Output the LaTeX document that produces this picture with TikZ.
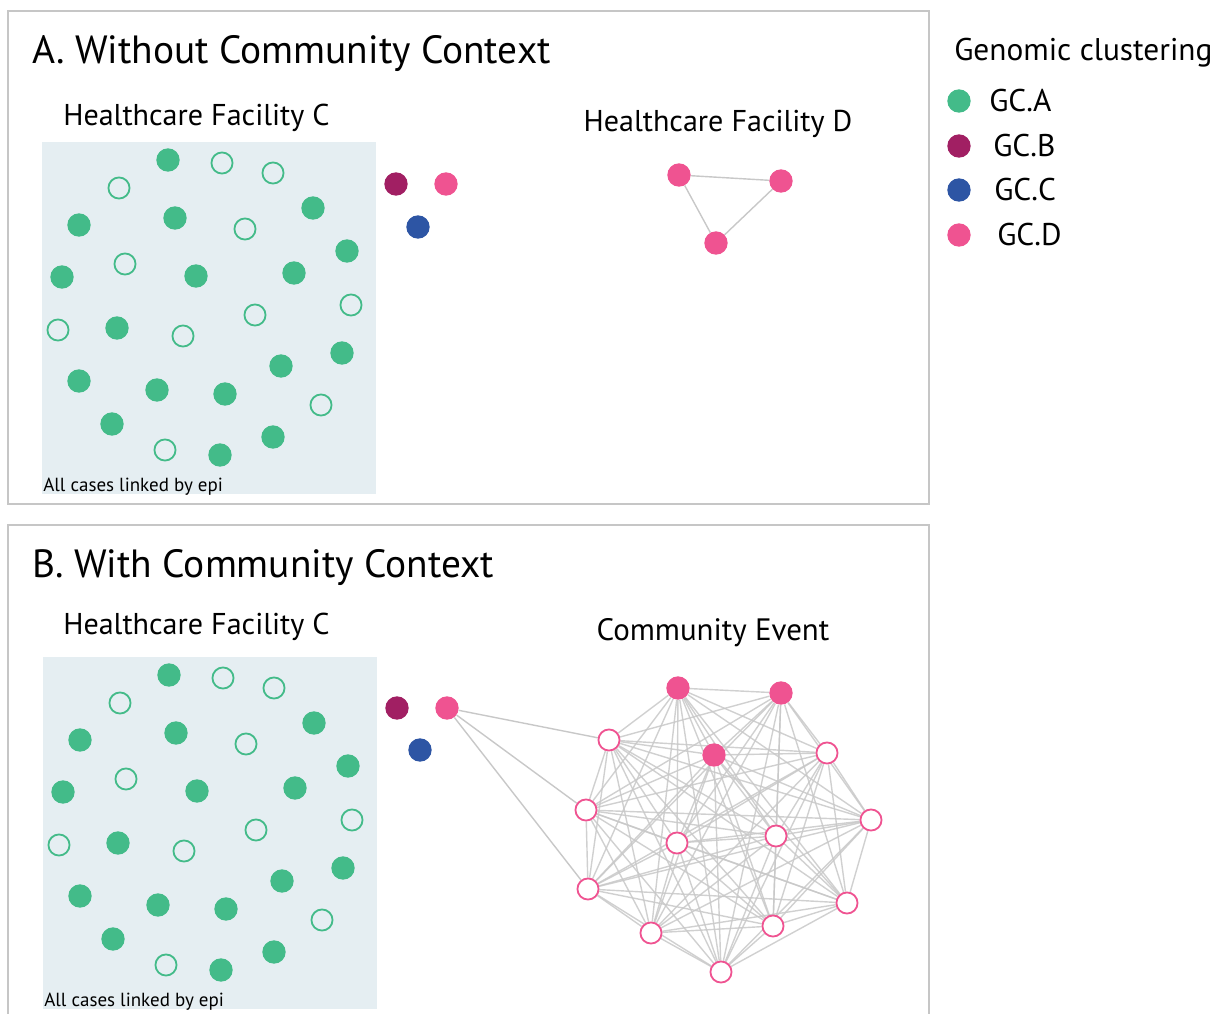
\documentclass[tikz,border=0pt]{standalone}
\usepackage{fontspec}
\setmainfont{PT Sans}
\usetikzlibrary{backgrounds}
\definecolor{gcA}{HTML}{43BB89}
\definecolor{gcB}{HTML}{A11F63}
\definecolor{gcC}{HTML}{2D55A4}
\definecolor{gcD}{HTML}{EF5391}
\definecolor{facbg}{HTML}{E5EEF2}
\definecolor{framegray}{HTML}{C6C6C6}
\definecolor{edgegray}{HTML}{C8C8C8}
\begin{document}
\begin{tikzpicture}[x=0.025cm,y=-0.025cm,
    dotfull/.style={circle,inner sep=0pt,minimum size=16.6pt,fill=#1},
    dotopen/.style={circle,inner sep=0pt,minimum size=15pt,draw=#1,line width=1.3pt},
    caseopen/.style={dotopen=gcD,fill=white},
    link/.style={edgegray,line width=1pt},
    frame/.style={framegray,line width=1.8pt},
    title/.style={anchor=base west,inner sep=0pt,font=\fontsize{28}{32}\selectfont},
    sub/.style={inner sep=0pt,font=\fontsize{21.4}{25}\selectfont},
    key/.style={inner sep=0pt,font=\fontsize{22.3}{26}\selectfont},
    small/.style={anchor=base west,inner sep=0pt,font=\fontsize{13.5}{16}\selectfont}]
    \useasboundingbox (0,0) rectangle (1212,1014);

    \draw[frame] (8,11) rectangle (929,504);
    \draw[frame] (8,1020) -- (8,525) -- (929,525) -- (929,1020);

    \node[title] (titleA) at (32,63) {A. Without Community Context};
    \node[title] (titleB) at (32,577) {B. With Community Context};
    \node[sub,anchor=base west] (facCa) at (63,125) {Healthcare Facility C};
    \node[sub,anchor=base west] (facCb) at (63,634) {Healthcare Facility C};
    \node[sub,anchor=base] (facD) at (718,131) {Healthcare Facility D};
    \node[sub,anchor=base,font=\fontsize{22}{26}\selectfont] (event) at (713,640) {Community Event};

    \foreach \p/\dx/\dy in {a/0/0,b/1/515} {
        \fill[facbg] (42+\dx,142+\dy) rectangle (376+\dx,494+\dy);
        \node[small] (\p epi) at (43+\dx,491+\dy) {All cases linked by epi};
        \foreach \x/\y [count=\i] in {168/160,79/225,175/218,313/208,347/251,62/277,196/276,294/273,
            117/328,342/353,79/381,157/390,225/394,281/366,112/424,220/455,273/437}
            \node[dotfull=gcA] (\p full\i) at (\x+\dx,\y+\dy) {};
        \foreach \x/\y [count=\i] in {222/163,273/173,119/188,245/229,125/264,58/330,183/336,
            255/315,351/305,321/405,165/450}
            \node[dotopen=gcA] (\p open\i) at (\x+\dx,\y+\dy) {};
    }

    \node[dotfull=gcB] (aB) at (396,184) {};
    \node[dotfull=gcD] (aD) at (446,184) {};
    \node[dotfull=gcC] (aC) at (418,227) {};
    \node[dotfull=gcB] (bB) at (397,708) {};
    \node[dotfull=gcD] (bD) at (447,708) {};
    \node[dotfull=gcC] (bC) at (420,750) {};

    \node[dotfull=gcD] (d1) at (679,175) {};
    \node[dotfull=gcD] (d2) at (781,181) {};
    \node[dotfull=gcD] (d3) at (716,243) {};
    \begin{scope}[on background layer]
        \draw[link] (d1) -- (d2) -- (d3) -- (d1);
    \end{scope}

    \foreach \x/\y [count=\i] in {678/688,781/693,714/755}
        \node[dotfull=gcD] (ce\i) at (\x,\y) {};
    \foreach \x/\y [count=\i from 4] in {609/740,827/753,586/810,871/820,677/843,776/836,
        588/889,847/903,651/933,773/926,721/972}
        \node[caseopen] (ce\i) at (\x,\y) {};
    \begin{scope}[on background layer]
        \foreach \i in {1,...,13} {
            \pgfmathtruncatemacro\k{\i+1}
            \foreach \j in {\k,...,14}
                \draw[link,opacity=0.85] (ce\i) -- (ce\j);
        }
        \foreach \j in {4,6,10}
            \draw[link] (bD) -- (ce\j);
    \end{scope}

    \node[key,anchor=base west] (legend) at (954,60) {Genomic clustering};
    \foreach \c/\t/\y/\lx in {gcA/GC.A/101/989,gcB/GC.B/146/993,gcC/GC.C/190/994,gcD/GC.D/235/997} {
        \node[dotfull=\c] (key\t) at (959,\y) {};
        \node[key,anchor=west] (lab\t) at (\lx,\y) {\t};
    }
\end{tikzpicture}
\end{document}
